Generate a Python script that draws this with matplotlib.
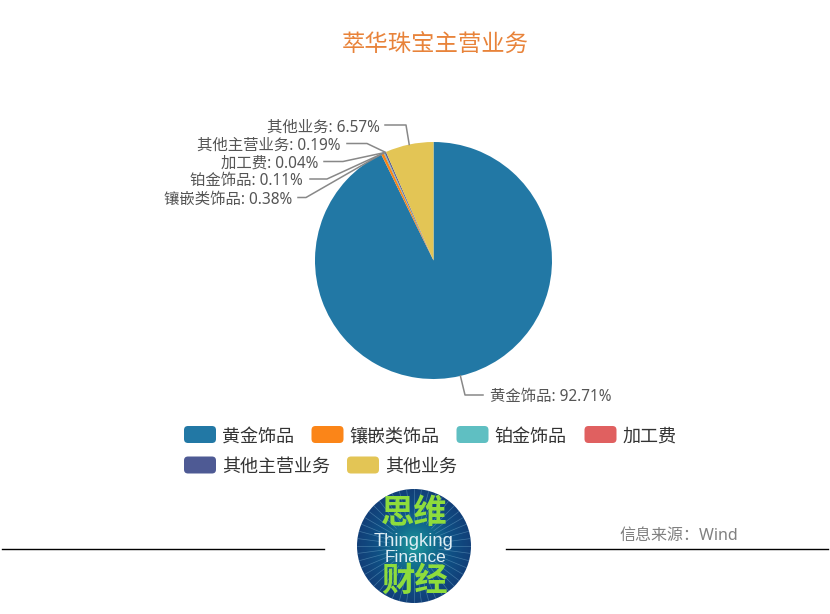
import numpy as np
import matplotlib
matplotlib.use("Agg")
import matplotlib.pyplot as plt
from matplotlib.patches import Circle, FancyBboxPatch
from matplotlib.colors import LinearSegmentedColormap

plt.rcParams['font.family'] = ['Noto Sans', 'Noto Sans CJK SC', 'DejaVu Sans']

# data
categories = ["黄金饰品", "镶嵌类饰品", "铂金饰品", "加工费", "其他主营业务", "其他业务"]
values = [92.71, 0.38, 0.11, 0.04, 0.19, 6.57]
colors = ["#2278a5", "#fb8518", "#5fbfc2", "#e06060", "#4e5a94", "#e3c555"]

# layout, in pixels from the top left
W, H = 830, 614
CX, CY, R = 433.5, 260.5, 118.5
label_right = [None, 292, 303, 318, 340, 380]
label_y = [None, 199.5, 181.5, 163.5, 145.5, 127.5]
line_start = [(483, 395), (298, 197.5), (310, 179), (324, 161.5), (347, 143.5), (385, 125)]
line_elbow = [(465, 395), (306, 197.5), (327, 179), (343, 161.5), (367, 143.5), (406, 125)]
legend_pos = [(184, 434.5), (311.5, 434.5), (456.5, 434.5), (584.5, 434.5), (184, 465), (347, 465)]


def py(y):
    return H - y


fig = plt.figure(figsize=(W / 100, H / 100), dpi=100)
ax = fig.add_axes([0, 0, 1, 1])

wedges, _ = ax.pie(values, colors=colors, startangle=90, counterclock=False,
                   center=(CX, py(CY)), radius=R, frame=True)
ax.set_xlim(0, W)
ax.set_ylim(0, H)
ax.set_aspect("equal")
ax.axis("off")

ax.text(435, py(46), "萃华珠宝主营业务", color="#e8833a", fontsize=16.8,
        ha="center", va="center")

# labels and leader lines
for i, w in enumerate(wedges):
    ang = np.radians((w.theta1 + w.theta2) / 2)
    ex = CX + R * np.cos(ang)
    ey = CY - R * np.sin(ang)
    sx, sy = line_start[i]
    mx, my = line_elbow[i]
    ax.plot([sx, mx, ex], [py(sy), py(my), py(ey)], color="#888888", lw=1.1,
            solid_joinstyle="round", zorder=3)
    txt = f"{categories[i]}: {values[i]:.2f}%"
    if i == 0:
        ax.text(490, py(397.5), txt, color="#555555", fontsize=11.1, ha="left", va="center")
    else:
        ax.text(label_right[i], py(label_y[i]), txt, color="#555555", fontsize=11.1,
                ha="right", va="center")

# legend
for (x, y), name, c in zip(legend_pos, categories, colors):
    box = FancyBboxPatch((x, py(y) - 8.5), 32, 17, boxstyle="round,pad=0,rounding_size=4",
                         fc=c, ec="none")
    ax.add_patch(box)
    ax.text(x + 38, py(y + 2), name, color="#333333", fontsize=13, ha="left", va="center")

# footer
ax.plot([2, 324], [py(549), py(549)], color="black", lw=1)
ax.plot([506, 828], [py(549), py(549)], color="black", lw=1)
ax.text(619, py(536), "信息来源：Wind", color="#808080", fontsize=11.5, ha="left", va="center")

# logo
LX, LY, LR = 414, 546, 57
clip = Circle((LX, py(LY)), LR, transform=ax.transData, fc="none", ec="none")
ax.add_patch(clip)
grad = np.hypot(*np.meshgrid(np.linspace(-1, 1, 200), np.linspace(-1, 1, 200)))
cmap = LinearSegmentedColormap.from_list("logo", ["#1f9a9c", "#13708f", "#0f4f84", "#123f78"])
im = ax.imshow(grad, extent=(LX - LR, LX + LR, py(LY) - LR, py(LY) + LR), cmap=cmap,
               vmin=0, vmax=1, zorder=2, aspect="equal")
im.set_clip_path(clip)
for a in np.radians(np.arange(0, 360, 7.5)):
    ray, = ax.plot([LX + 25 * np.cos(a), LX + LR * np.cos(a)],
                   [py(LY) + 25 * np.sin(a), py(LY) + LR * np.sin(a)],
                   color="#6fa6c8", lw=0.5, alpha=0.5, zorder=2.1)
    ray.set_clip_path(clip)
ax.text(LX, py(514), "思维", color="#8edc3c", fontsize=24, fontweight="bold",
        ha="center", va="center", zorder=4)
ax.text(LX, py(541), "Thingking", color="#dfeef5", fontsize=13.2, ha="center", va="center", zorder=4,
        family="Liberation Sans")
ax.text(LX + 1, py(557), "Finance", color="#dfeef5", fontsize=12.4, ha="center", va="center", zorder=4,
        family="Liberation Sans")
ax.text(LX, py(582), "财经", color="#8edc3c", fontsize=24, fontweight="bold",
        ha="center", va="center", zorder=4)
ax.set_xlim(0, W)
ax.set_ylim(0, H)

fig.savefig("out.png", dpi=100, facecolor="white")
